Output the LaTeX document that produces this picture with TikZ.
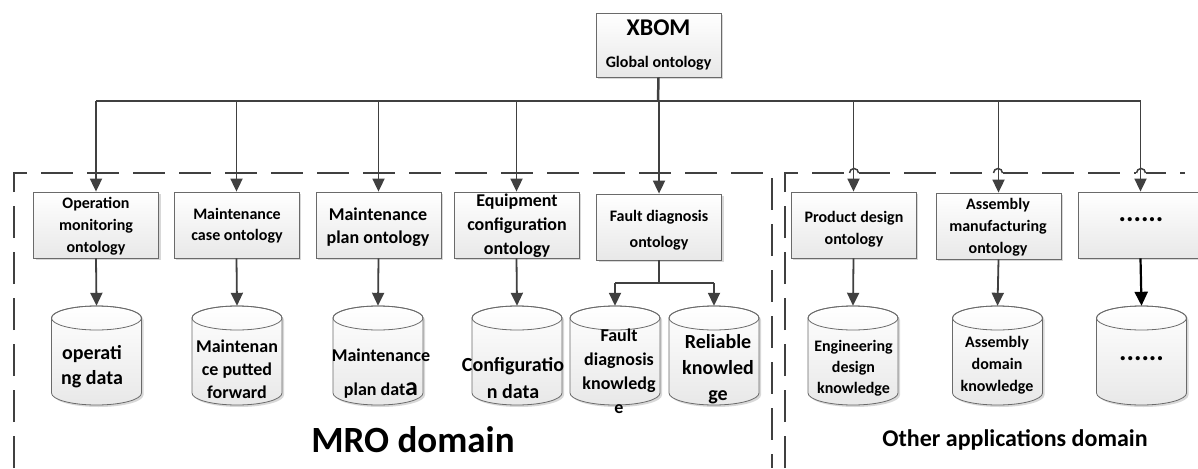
\documentclass[tikz,border=0pt]{standalone}
\usepackage{fontspec}
\setmainfont{Carlito}
\usetikzlibrary{arrows.meta,shadows}
\definecolor{ln}{HTML}{404040}
\definecolor{bd}{HTML}{6A6A6A}
\newcommand\fs[2]{\fontsize{#1}{#2}\selectfont}
\tikzset{
  ontbox/.style={draw=bd, line width=0.8pt, top color=white, bottom color=black!9,
    minimum width=125pt, minimum height=66pt, inner sep=0pt,
    drop shadow={shadow xshift=2pt, shadow yshift=-2pt, fill=black!30, opacity=0.5}},
  btext/.style={align=center, inner sep=0pt},
  conn/.style={draw=ln, line width=1.8pt, -{Triangle[length=13pt,width=12pt]}},
  plainln/.style={draw=ln, line width=1.8pt},
  domline/.style={draw=ln, line width=2pt, dash pattern=on 32pt off 14pt},
  hole/.style={inner sep=0pt, minimum width=90pt, minimum height=99pt},
  dots/.style={btext, font=\bfseries\fs{28}{28}},
}
% cylinder: #1 name, #2 centre x
\newcommand\dbcyl[2]{%
  \fill[black!30, opacity=.5, shift={(2,2)}] (#2-45,318) -- (#2-45,393)
    arc[start angle=180,end angle=360,x radius=45pt,y radius=12pt] -- (#2+45,318)
    arc[start angle=0,end angle=180,x radius=45pt,y radius=12pt] -- cycle;
  \path[top color=white, bottom color=black!9, draw=bd, line width=0.8pt]
    (#2-45,318) -- (#2-45,393)
    arc[start angle=180,end angle=360,x radius=45pt,y radius=12pt] -- (#2+45,318)
    arc[start angle=0,end angle=180,x radius=45pt,y radius=12pt] -- cycle;
  \draw[bd, line width=0.8pt] (#2,318) ellipse[x radius=45pt,y radius=12pt];
  \node[hole] (#1) at (#2,355.5) {};
}
\begin{document}
\begin{tikzpicture}[x=1pt,y=-1pt]
\useasboundingbox (0,0) rectangle (1198,468);
\clip (0,0) rectangle (1198,468);
\fill[white] (0,0) rectangle (1198,468);

% domain borders
\draw[domline] (14,468) -- (14,173) -- (772,173) -- (772,468);
\draw[domline] (785,468) -- (785,173) -- (1185,173);
\foreach \hx in {854,998,1141}{
  \fill[white] (\hx-5,169) rectangle (\hx+5,177);
  \draw[ln, line width=1.5pt] (\hx-4.5,173) arc[start angle=180,end angle=0,radius=4.5pt];
}

% global ontology
\node[ontbox, minimum height=64pt] (xbom) at (658.5,45) {};
\node[btext, font=\bfseries\fs{24}{24}] (xbomt) at (658.5,28) {XBOM};
\node[btext, font=\bfseries\fs{16}{16}] (xbomg) at (658.5,63) {Global ontology};

% ontology boxes
\node[ontbox] (b1) at (96,225) {};
\node[ontbox] (b2) at (236.5,225) {};
\node[ontbox] (b3) at (378.5,225) {};
\node[ontbox] (b4) at (516.5,225) {};
\node[ontbox] (b5) at (659,227) {};
\node[ontbox] (b6) at (853.5,225) {};
\node[ontbox] (b7) at (998.5,226) {};
\node[ontbox] (b8) at (1140.5,225) {};

\node[btext, font=\bfseries\fs{16}{22}] (b1t) at (96,226) {Operation\\monitoring\\ontology};
\node[btext, font=\bfseries\fs{16}{21}] (b2t) at (237,226) {Maintenance\\case ontology};
\node[btext, font=\bfseries\fs{18}{23}] (b3t) at (378,227) {Maintenance\\plan ontology};
\node[btext, font=\bfseries\fs{18}{24}] (b4t) at (517,226) {Equipment\\configuration\\ontology};
\node[btext, font=\bfseries\fs{16}{26}] (b5t) at (659,230) {Fault diagnosis\\ontology};
\node[btext, font=\bfseries\fs{16}{22}] (b6t) at (854,229) {Product design\\ontology};
\node[btext, font=\bfseries\fs{16}{22}] (b7t) at (998,227) {Assembly\\manufacturing\\ontology};
\node[dots] (b8t) at (1141,220) {......};

% trunk
\coordinate (tj) at (658,101);
\coordinate (h1) at (96,101);
\coordinate (h2) at (236.5,101);
\coordinate (h3) at (378.5,101);
\coordinate (h4) at (516.5,101);
\coordinate (h5) at (659,101);
\coordinate (h6) at (853.5,101);
\coordinate (h7) at (998.5,101);
\coordinate (h8) at (1140.5,101);
\draw[plainln, line width=2.5pt] (xbom.south) -- (tj);
\draw[plainln, line width=2.5pt] (h1) -- (tj);
\draw[plainln] (tj) -- (h8);
\foreach \i in {1,...,8}{ \draw[conn] (h\i) -- (b\i.north); }

% databases
\dbcyl{c1}{96.5}
\dbcyl{c2}{237}
\dbcyl{c3}{378}
\dbcyl{c4}{517}
\dbcyl{c5}{615}
\dbcyl{c6}{714}
\dbcyl{c7}{853}
\dbcyl{c8}{997.5}
\dbcyl{c9}{1141.5}

\node[btext, font=\bfseries\fs{20}{25}] (c1t) at (92,367) {operati\\ng data};
\node[btext, font=\bfseries\fs{18}{23}] (c2t) at (237,369) {Maintenan\\ce putted\\forward};
\node[btext, font=\bfseries\fs{18}{34}] (c3t) at (381,374) {Maintenance\\plan dat{\fs{26}{26}a}};
\node[btext, font=\bfseries\fs{20}{27}] (c4t) at (513,378) {Configuratio\\n data};
\node[btext, font=\bfseries\fs{18}{24}] (c5t) at (619,371) {Fault\\diagnosis\\knowledg\\e};
\node[btext, font=\bfseries\fs{20}{26}] (c6t) at (718,369) {Reliable\\knowled\\ge};
\node[btext, font=\bfseries\fs{16}{21}] (c7t) at (853.5,368) {Engineering\\design\\knowledge};
\node[btext, font=\bfseries\fs{16}{22}] (c8t) at (997,365) {Assembly\\domain\\knowledge};
\node[dots] (c9t) at (1141.5,359) {......};

% box -> database
\draw[conn] (b1.south) -- (c1.north);
\draw[conn] (b2.south) -- (c2.north);
\draw[conn] (b3.south) -- (c3.north);
\draw[conn] (b4.south) -- (c4.north);
\coordinate (fj) at (659,283);
\coordinate (fl) at (615,283);
\coordinate (fr) at (714,283);
\draw[plainln] (b5.south) -- (fj);
\draw[plainln] (fl) -- (fr);
\draw[conn] (fl) -- (c5.north);
\draw[conn] (fr) -- (c6.north);
\draw[conn] (b6.south) -- (c7.north);
\draw[conn] (b7.south) -- (c8.north);
\draw[conn, draw=black, line width=2.2pt, -{Triangle[length=14pt,width=13pt]}] (b8.south) -- (c9.north);

% domain labels
\node[font=\bfseries\fs{37}{37}, inner sep=0pt] (mro) at (413,440) {MRO domain};
\node[font=\bfseries\fs{24}{24}, inner sep=0pt] (oth) at (1015,440) {Other applications domain};
\end{tikzpicture}
\end{document}
